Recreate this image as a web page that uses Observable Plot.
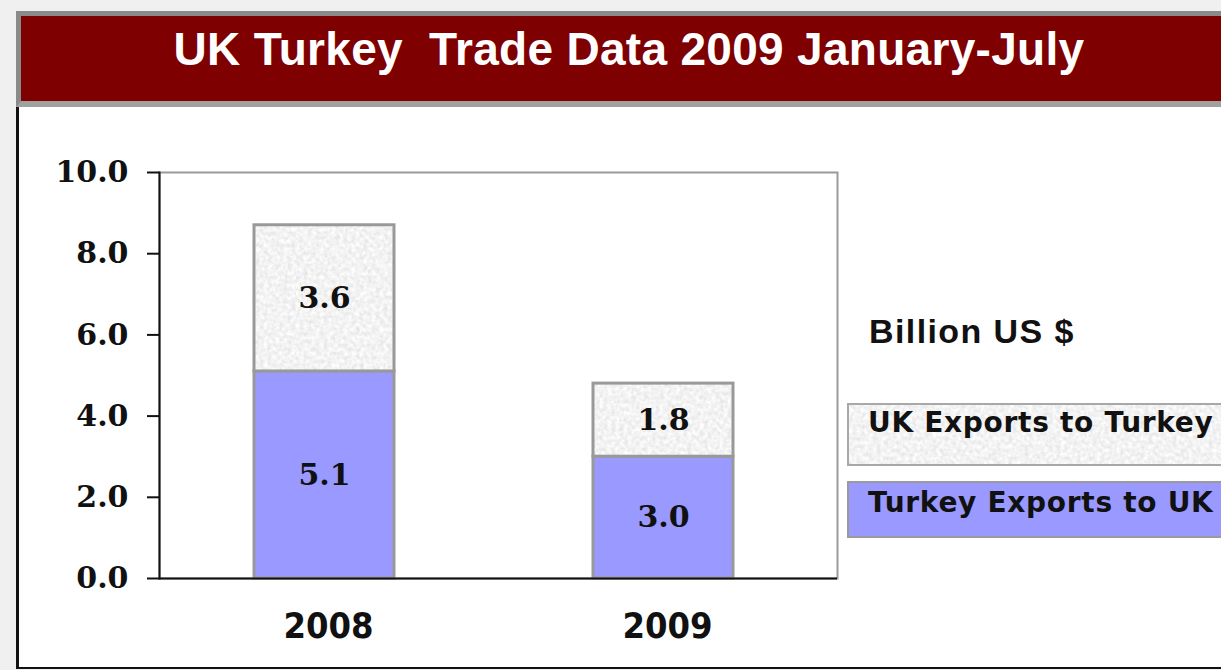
<!DOCTYPE html>
<html>
<head>
<meta charset="utf-8">
<script src="https://cdn.jsdelivr.net/npm/d3@7"></script>
<script src="https://cdn.jsdelivr.net/npm/@observablehq/plot@0.6"></script>
<style>
  html, body { margin: 0; padding: 0; }
  body { width: 1221px; height: 670px; background: #f0f0f0; position: relative; overflow: hidden; }
  #panel { position: absolute; left: 16px; top: 11px; width: 1230px; height: 658px; background: #fff;
           border-left: 3px solid #111; border-bottom: 2px solid #111; box-sizing: border-box; }
  #titlebar { position: absolute; left: 16px; top: 11px; width: 1230px; height: 96px; box-sizing: border-box;
              background: #7f0000; border: 5px solid #8a8a8a; border-bottom: 6px solid #a0a0a0; border-right: none; }
  #title { position: absolute; left: 0; top: 26px; width: 1258px; text-align: center; color: #fff;
           font-family: "Liberation Sans", Arial, sans-serif; font-weight: bold; font-size: 46px; line-height: 1;
           letter-spacing: 0.3px; white-space: pre; z-index: 3; }
  #chart { position: absolute; left: 0; top: 0; z-index: 2; }
  #unit { position: absolute; left: 869px; top: 314px; font-family: "Liberation Sans", Arial, sans-serif;
          font-weight: bold; font-size: 34px; line-height: 1; letter-spacing: 1.4px; color: #111; z-index: 3; white-space: pre; }
  .lg-box { position: absolute; left: 847px; width: 400px; box-sizing: border-box; border: 2px solid #a8a8a8; z-index: 1; }
  .lg-text { position: absolute; left: 868px; font-family: "DejaVu Sans", Verdana, sans-serif; font-weight: bold;
             font-size: 28px; line-height: 1; letter-spacing: 0.7px; color: #111; z-index: 3; white-space: pre; }
  .speckle { background-color: #e6e6e6;
    background-image: url("data:image/svg+xml;utf8,<svg xmlns='http://www.w3.org/2000/svg' width='400' height='80'><filter id='n' x='0' y='0' width='100%' height='100%'><feTurbulence type='fractalNoise' baseFrequency='0.25' numOctaves='2' seed='3'/><feColorMatrix type='matrix' values='0.35 0 0 0 0.72 0.35 0 0 0 0.72 0.35 0 0 0 0.72 0 0 0 0 1'/></filter><rect width='100%' height='100%' filter='url(%23n)'/></svg>"); }
</style>
</head>
<body>
<div id="panel"></div>
<div id="titlebar"></div>
<div id="title"></div>
<div id="unit"></div>
<div id="legend"></div>
<div id="chart"></div>
<script>
// ---- data ----
const titleText = "UK Turkey  Trade Data 2009 January-July";
const unitText = "Billion US $";
const years = ["2008", "2009"];
const seriesNames = ["Turkey Exports to UK", "UK Exports to Turkey"];
const turkeyExportsToUK = [5.1, 3.0];
const ukExportsToTurkey = [3.6, 1.8];
const yTicks = [0, 2, 4, 6, 8, 10];
const seriesColors = ["#9999ff", "url(#speckle)"];
const legendOrder = ["UK Exports to Turkey", "Turkey Exports to UK"];

const data = years.flatMap((year, i) => [
  {year, series: seriesNames[0], value: turkeyExportsToUK[i]},
  {year, series: seriesNames[1], value: ukExportsToTurkey[i]}
]);

document.getElementById("title").textContent = titleText;
document.getElementById("unit").textContent = unitText;

// legend (HTML)
const legend = document.getElementById("legend");
const legendTops = [403, 481];
const legendHeights = [63, 57];
const legendTextTops = [409, 489];
legendOrder.forEach((name, i) => {
  const box = document.createElement("div");
  box.className = "lg-box" + (name === seriesNames[1] ? " speckle" : "");
  box.style.top = legendTops[i] + "px";
  box.style.height = legendHeights[i] + "px";
  if (name === seriesNames[0]) { box.style.background = seriesColors[0]; box.style.borderColor = "#9a9a9a"; }
  legend.appendChild(box);
  const t = document.createElement("div");
  t.className = "lg-text";
  t.style.top = legendTextTops[i] + "px";
  t.textContent = name;
  legend.appendChild(t);
});

const defsMark = () => {
  const defs = d3.create("svg:defs");
  const f = defs.append("filter").attr("id", "speckleNoise").attr("x", 0).attr("y", 0).attr("width", "100%").attr("height", "100%");
  f.append("feTurbulence").attr("type", "fractalNoise").attr("baseFrequency", 0.25).attr("numOctaves", 2).attr("seed", 3);
  f.append("feColorMatrix").attr("type", "matrix")
    .attr("values", "0.35 0 0 0 0.72 0.35 0 0 0 0.72 0.35 0 0 0 0.72 0 0 0 0 1");
  const p = defs.append("pattern").attr("id", "speckle").attr("patternUnits", "userSpaceOnUse")
    .attr("width", 300).attr("height", 300);
  p.append("rect").attr("width", 300).attr("height", 300).attr("filter", "url(#speckleNoise)");
  return defs.node();
};

const chart = Plot.plot({
  width: 1221,
  height: 670,
  marginLeft: 159,
  marginRight: 384,
  marginTop: 172,
  marginBottom: 92,
  style: {background: "transparent", overflow: "visible", color: "#111"},
  x: {domain: years, paddingInner: 0.587, paddingOuter: 0.2935, label: null},
  y: {domain: [0, 10], label: null},
  color: {domain: seriesNames, range: seriesColors},
  marks: [
    defsMark,
    Plot.frame({stroke: "#9a9a9a", strokeWidth: 2}),
    Plot.barY(data, Plot.stackY({
      x: "year", y: "value", z: "series", fill: "series",
      stroke: "#999", strokeWidth: 3, dx: -4
    })),
    Plot.text(data, Plot.stackY({
      x: "year", y: "value", z: "series", text: d => d.value.toFixed(1),
      fontSize: 30, fontWeight: "bold", fontFamily: "DejaVu Serif", fill: "#111", dx: -4
    })),
    Plot.frame({anchor: "left", stroke: "#111", strokeWidth: 2}),
    Plot.ruleY([0], {stroke: "#111", strokeWidth: 2}),
    Plot.axisY({
      ticks: yTicks, tickFormat: d3.format(".1f"), tickSize: 12, tickPadding: 19,
      stroke: "#111", strokeWidth: 2,
      fontSize: 30, fontWeight: "bold", fontFamily: "DejaVu Serif", fill: "#111"
    }),
    Plot.axisX({
      tickSize: 0, tickPadding: 34,
      fontSize: 36, fontWeight: "bold", fontFamily: "DejaVu Sans Condensed, DejaVu Sans", fill: "#111"
    })
  ]
});
document.getElementById("chart").appendChild(chart);
</script>
</body>
</html>
